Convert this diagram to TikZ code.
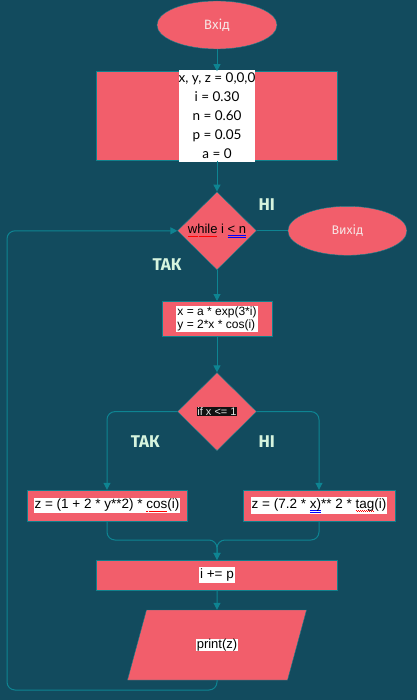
\documentclass[tikz,border=0pt]{standalone}
\usepackage{fontspec}
\setmainfont{Liberation Sans}
\newfontfamily\firafont{Fira Sans}
\newfontfamily\latofont{Lato}
\usepackage{tikz}
\usetikzlibrary{shapes.geometric, positioning, arrows.meta, calc}

\definecolor{bgteal}{RGB}{18,75,94}
\definecolor{boxred}{RGB}{242,94,107}
\definecolor{edgeteal}{RGB}{16,128,140}
\definecolor{lineteal}{RGB}{14,132,146}
\definecolor{lblgreen}{RGB}{214,244,222}
\definecolor{ovaltxt}{RGB}{247,228,228}
\definecolor{condbg}{RGB}{18,18,18}

% spell-check marks
\newsavebox{\markbox}
\newcommand\redwave[1]{\sbox{\markbox}{#1}\rlap{\textcolor{red}{\hbox to \wd\markbox{\xleaders\hbox{\rule[-2.4pt]{1pt}{0.6pt}\rule[-3.2pt]{1pt}{0.6pt}}\hfill}}}\usebox{\markbox}}
\newcommand\blueuu[1]{\sbox{\markbox}{#1}\rlap{\textcolor{blue}{\rule[-2.2pt]{\wd\markbox}{0.5pt}}}\rlap{\textcolor{blue}{\rule[-3.6pt]{\wd\markbox}{0.5pt}}}\usebox{\markbox}}

\begin{document}
\begin{tikzpicture}[x=1pt, y=-1pt, >={Triangle[width=7pt,length=7pt]},
  every node/.style={font=\fontsize{12}{14}\selectfont},
  oval/.style={draw=edgeteal, fill=boxred, ellipse, inner sep=0pt, text=ovaltxt, font=\firafont\fontsize{13.5}{16}\selectfont},
  procbox/.style={draw=edgeteal, fill=boxred, rectangle, inner sep=0pt},
  decide/.style={draw=edgeteal, fill=boxred, diamond, inner sep=0pt},
  iobox/.style={procbox, xslant=0.271, transform shape},
  wtxt/.style={fill=white, text=black, inner xsep=1pt, inner ysep=1.5pt},
  conn/.style={->, draw=lineteal, line width=1pt},
  link/.style={draw=lineteal, line width=1pt},
  branch/.style={font=\firafont\bfseries\fontsize{17}{19}\selectfont, text=lblgreen}]

% Background
\fill[bgteal] (0,0) rectangle (417,700);
\useasboundingbox (0,0) rectangle (417,700);

% Main column
\node (start) [oval, minimum width=120pt, minimum height=48pt] at (217,25) {Вхід};
\node (init) [procbox, below=22pt of start, minimum width=241pt, minimum height=89pt] {};
\node (initTxt) [wtxt, align=center, inner xsep=0pt, inner ysep=3pt, font=\latofont\fontsize{13.5}{19}\selectfont] at (init) {x, y, z = 0,0,0\\ i = 0.30\\ n = 0.60\\ p = 0.05\\ a = 0};

\node (while) [decide, below=31pt of init, minimum width=79pt, minimum height=78pt] {};
\node (whileTxt) [text=black, inner sep=0pt, font=\fontsize{13}{15}\selectfont] at (while) {\redwave{while} i \blueuu{< n}};
\node (exit) [oval, right=31pt of while, minimum width=119pt, minimum height=49pt, font=\firafont\fontsize{12.5}{15}\selectfont] {Вихід};

\node (calc) [procbox, below=31pt of while, minimum width=110pt, minimum height=35pt] {};
\node (calcTxt) [wtxt, align=left, inner ysep=0.5pt, font=\fontsize{12}{13.5}\selectfont] at (calc) {x = a * exp(3*i)\\ y = 2*x * cos(i)};

\node (cond) [decide, below=36pt of calc, minimum width=79pt, minimum height=78pt] {};
\node (condTxt) [fill=condbg, text=white!88!black, inner sep=0.5pt, font=\fontsize{11}{13}\selectfont] at (cond) {if x <= 1};

% Branches
\node (zleft) [procbox, minimum width=160pt, minimum height=31pt] at (107,505.5) {};
\node (zleftTxt) [wtxt, inner xsep=0.5pt, font=\fontsize{13.5}{15}\selectfont] at (zleft) {z = (1 + 2 * y**2) * \redwave{cos}(i)};
\node (zright) [procbox, minimum width=152pt, minimum height=31pt] at (319,505.5) {};
\node (zrightTxt) [wtxt, font=\fontsize{13.5}{15}\selectfont] at (zright) {z = (7.2 * \blueuu{x)}** 2 * \redwave{tag}(i)};

\node (incr) [procbox, minimum width=241pt, minimum height=30pt] at (217,575) {};
\node (incrTxt) [wtxt, font=\fontsize{13.5}{15}\selectfont] at (incr) {i += p};
\node (out) [iobox, minimum width=160pt, minimum height=70pt] at (217,645) {};
\node (outTxt) [wtxt, inner ysep=0pt, font=\fontsize{13}{15}\selectfont] at (out) {print(z)};

% Yes / no labels
\node (no1) [branch] at ($(while.east)+(10,-26)$) {НІ};
\node (yes1) [branch] at ($(while.south)+(-50,-5)$) {ТАК};
\node (yes2) [branch] at ($(cond.west)+(-32,30)$) {ТАК};
\node (no2) [branch] at ($(cond.east)+(10,30)$) {НІ};

% Helper points
\coordinate (join) at (217,540);
\coordinate (outBot) at (out.south -| out.center);
\coordinate (back) at (7,690);

% Connectors
\draw[conn] (start) -- (init);
\draw[conn] (init) -- (while);
\draw[link] (while) -- (exit);
\draw[conn] (while) -- (calc);
\draw[conn] (calc) -- (cond);
\draw[conn, rounded corners=8pt] (cond.west) -| (zleft.north);
\draw[conn, rounded corners=8pt] (cond.east) -| (zright.north);
\draw[conn, rounded corners=8pt] (zleft.south) |- (join) -- (incr.north);
\draw[conn, rounded corners=8pt] (zright.south) |- (join) -- (incr.north);
\draw[conn] (incr) -- (out);
\draw[conn, rounded corners=8pt] (outBot) |- (back) |- (while.west);

\end{tikzpicture}
\end{document}
